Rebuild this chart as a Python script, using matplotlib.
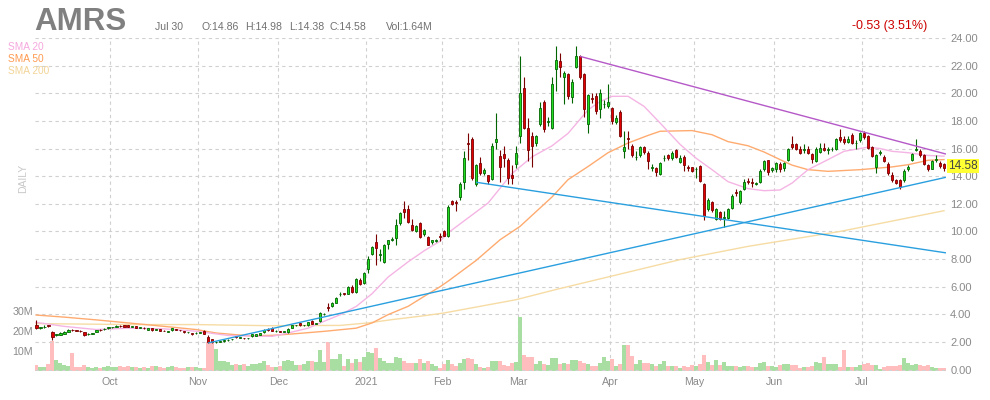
import numpy as np
import pandas as pd
import matplotlib
matplotlib.use("Agg")
import matplotlib.pyplot as plt
import matplotlib.transforms as mtransforms

plt.rcParams['font.family'] = ['Liberation Sans', 'DejaVu Sans']

# trading days Sep 3 2020 .. Jul 30 2021
holidays = ['2020-09-07', '2020-11-26', '2020-12-25', '2021-01-01', '2021-01-18',
            '2021-02-15', '2021-04-02', '2021-05-31', '2021-07-05']

opens = [
    3.25, 3.0, 3.05, 3.2, 2.75, 2.5, 2.53, 2.58, 2.72, 2.9,
    2.83, 2.8, 2.72, 2.55, 2.6, 2.72, 2.86, 2.92, 3.0, 3.07,
    3.08, 3.15, 3.22, 3.2, 3.12, 3.13, 3.02, 3.02, 2.9, 3.0,
    2.88, 2.92, 2.82, 2.74, 2.85, 2.92, 2.86, 2.8, 2.7, 2.65,
    2.63, 2.68, 2.8, 2.36, 2.2, 1.98, 2.0, 2.05, 2.14, 2.18,
    2.42, 2.3, 2.28, 2.27, 2.4, 2.45, 2.5, 2.7, 2.92, 3.0,
    2.8, 2.76, 2.74, 2.7, 3.0, 3.2, 3.35, 3.2, 3.2, 3.55,
    3.33, 3.5, 4.02, 4.5, 4.6, 4.85, 5.45, 5.5, 5.5, 6.0,
    5.6, 6.5, 6.25, 7.25, 8.4, 9.2, 8.3, 7.8, 9.1, 9.35,
    9.5, 10.6, 11.6, 11.6, 10.5, 10.0, 10.6, 9.8, 9.6, 9.2,
    9.33, 9.7, 10.0, 9.65, 12.2, 12.1, 12.5, 13.6, 16.4, 16.7,
    13.4, 14.95, 14.2, 14.05, 13.8, 16.5, 15.45, 15.6, 15.2, 14.1,
    14.9, 16.9, 20.4, 17.5, 16.9, 16.4, 17.75, 19.35, 17.95, 17.5,
    21.75, 22.3, 21.2, 21.4, 19.75, 21.9, 22.7, 21.4, 17.75, 19.65,
    19.8, 18.85, 19.2, 19.1, 18.9, 17.95, 18.65, 15.85, 16.75, 16.2,
    15.38, 15.5, 16.1, 15.7, 14.6, 14.6, 14.15, 15.3, 15.5, 15.3,
    15.9, 15.05, 15.4, 14.62, 14.65, 14.52, 14.75, 13.4, 11.6, 12.1,
    10.9, 11.4, 10.98, 11.0, 11.7, 12.82, 12.1, 13.1, 13.62, 13.58,
    13.45, 13.6, 14.55, 15.15, 14.45, 14.55, 14.9, 14.6, 15.15, 16.3,
    16.35, 16.0, 15.92, 16.0, 15.6, 15.1, 15.75, 16.05, 15.93, 15.96,
    16.0, 16.85, 16.7, 16.45, 17.0, 16.38, 16.65, 17.15, 16.9, 16.1,
    14.7, 15.68, 15.4, 14.9, 14.05, 13.7, 13.7, 13.7, 14.5, 15.2,
    15.93, 15.85, 15.5, 14.8, 14.55, 15.18, 14.95, 14.86,
]
highs = [
    3.6, 3.1, 3.2, 3.25, 2.8, 2.6, 2.7, 2.8, 2.95, 2.95,
    2.9, 2.85, 2.75, 2.65, 2.65, 2.88, 2.92, 2.98, 3.12, 3.12,
    3.22, 3.2, 3.25, 3.24, 3.18, 3.16, 3.08, 3.05, 3.02, 3.04,
    2.94, 2.95, 2.86, 2.8, 3.02, 2.96, 2.9, 2.83, 2.74, 2.68,
    2.7, 2.74, 2.85, 2.5, 2.25, 2.06, 2.1, 2.18, 2.2, 2.24,
    2.46, 2.34, 2.32, 2.32, 2.58, 2.58, 2.68, 2.92, 2.98, 3.05,
    2.85, 2.8, 2.8, 2.98, 3.22, 3.25, 3.4, 3.25, 3.48, 3.6,
    3.4, 4.15, 4.1, 4.85, 4.9, 5.25, 5.6, 5.58, 6.05, 6.1,
    6.6, 6.6, 7.1, 8.2, 8.95, 9.8, 8.7, 9.1, 9.4, 9.6,
    10.9, 11.4, 12.2, 11.9, 10.9, 10.5, 10.7, 10.2, 9.7, 9.4,
    9.45, 9.9, 10.1, 11.9, 12.3, 12.3, 13.6, 15.8, 17.1, 16.8,
    14.9, 15.4, 14.6, 14.1, 16.4, 18.6, 15.9, 16.2, 15.3, 14.8,
    16.2, 22.7, 21.2, 18.2, 17.2, 17.0, 19.4, 19.5, 18.3, 21.2,
    23.45, 22.9, 21.6, 21.5, 21.0, 23.4, 22.8, 21.5, 19.95, 20.0,
    20.0, 20.3, 19.5, 20.7, 19.0, 18.4, 18.8, 17.3, 17.3, 16.3,
    15.8, 16.2, 16.2, 15.8, 14.9, 14.7, 15.0, 15.5, 15.6, 15.8,
    16.0, 15.5, 15.5, 14.8, 14.7, 14.7, 14.8, 13.5, 12.4, 12.2,
    11.7, 11.5, 11.5, 11.7, 12.7, 13.1, 13.0, 13.8, 13.9, 13.9,
    13.55, 14.5, 15.2, 15.2, 14.7, 15.0, 15.0, 15.0, 16.05, 16.9,
    16.4, 16.2, 16.3, 16.2, 15.7, 16.1, 16.4, 16.4, 16.1, 16.1,
    16.75, 17.4, 16.9, 16.9, 17.1, 16.65, 17.2, 17.25, 17.0, 16.2,
    15.6, 15.9, 15.5, 15.0, 14.3, 13.8, 13.8, 14.5, 14.8, 15.7,
    16.7, 16.0, 15.6, 14.9, 15.2, 15.5, 15.1, 14.98,
]
lows = [
    2.95, 2.95, 3.0, 3.1, 2.15, 2.45, 2.5, 2.55, 2.7, 2.8,
    2.78, 2.72, 2.45, 2.5, 2.55, 2.7, 2.8, 2.88, 2.97, 3.02,
    3.05, 3.08, 3.05, 3.1, 3.08, 2.98, 2.98, 2.96, 2.88, 2.83,
    2.84, 2.8, 2.76, 2.7, 2.83, 2.86, 2.8, 2.68, 2.66, 2.5,
    2.6, 2.64, 2.58, 1.92, 1.9, 1.95, 1.98, 2.02, 2.1, 2.14,
    2.32, 2.26, 2.2, 2.22, 2.38, 2.42, 2.48, 2.68, 2.82, 2.78,
    2.75, 2.7, 2.7, 2.68, 2.98, 3.15, 3.18, 3.15, 3.18, 3.28,
    3.3, 3.45, 3.98, 4.25, 4.55, 4.8, 5.3, 5.4, 5.45, 5.55,
    5.55, 6.1, 6.2, 7.0, 8.3, 7.6, 7.85, 7.75, 8.7, 9.3,
    9.0, 10.5, 11.0, 10.6, 10.05, 9.95, 9.5, 9.7, 9.0, 9.1,
    9.25, 9.3, 9.65, 9.6, 11.9, 11.5, 12.3, 13.1, 15.2, 13.7,
    13.3, 14.1, 14.1, 13.4, 13.7, 16.0, 13.6, 14.7, 13.4, 13.4,
    14.6, 16.4, 17.4, 15.1, 14.7, 16.2, 17.6, 17.2, 17.6, 17.4,
    20.2, 21.2, 19.2, 19.6, 19.3, 21.8, 21.0, 18.3, 17.1, 19.3,
    18.5, 18.2, 18.9, 18.9, 17.8, 17.8, 16.8, 15.3, 16.0, 15.4,
    15.2, 15.4, 15.6, 14.5, 14.4, 14.0, 14.05, 15.1, 15.2, 15.2,
    15.3, 14.95, 14.4, 14.4, 14.3, 13.9, 13.6, 10.85, 11.5, 11.4,
    10.8, 10.8, 10.35, 10.9, 11.6, 12.6, 12.0, 13.0, 13.4, 13.2,
    13.35, 13.5, 14.4, 14.1, 14.3, 14.3, 14.3, 14.4, 15.1, 16.0,
    15.9, 15.6, 15.7, 15.6, 14.95, 15.0, 15.7, 15.8, 15.6, 15.85,
    15.9, 16.5, 16.3, 16.4, 16.3, 15.95, 16.5, 16.7, 16.0, 15.4,
    14.2, 15.5, 15.0, 14.1, 13.6, 13.4, 13.1, 13.6, 14.4, 15.1,
    15.8, 15.4, 14.8, 14.4, 14.5, 15.0, 14.6, 14.38,
]
closes = [
    3.0, 3.05, 3.1, 3.15, 2.35, 2.55, 2.65, 2.75, 2.9, 2.85,
    2.82, 2.78, 2.5, 2.6, 2.62, 2.85, 2.85, 2.94, 3.08, 3.08,
    3.18, 3.13, 3.08, 3.12, 3.13, 3.0, 3.04, 3.0, 3.0, 2.85,
    2.9, 2.82, 2.8, 2.76, 3.0, 2.9, 2.85, 2.7, 2.7, 2.55,
    2.65, 2.7, 2.6, 1.98, 2.0, 2.02, 2.08, 2.15, 2.15, 2.2,
    2.35, 2.3, 2.27, 2.28, 2.55, 2.55, 2.65, 2.9, 2.9, 2.8,
    2.8, 2.75, 2.75, 2.95, 3.2, 3.2, 3.2, 3.2, 3.45, 3.3,
    3.35, 4.1, 4.05, 4.45, 4.85, 5.2, 5.5, 5.48, 6.0, 5.6,
    6.55, 6.2, 7.0, 8.0, 8.9, 8.8, 8.35, 9.05, 9.35, 9.45,
    10.5, 11.3, 11.4, 10.7, 10.1, 10.4, 9.6, 10.1, 9.05, 9.35,
    9.35, 9.6, 9.7, 11.8, 12.0, 12.08, 13.4, 15.3, 16.35, 13.9,
    14.8, 14.2, 14.45, 13.65, 16.2, 16.7, 14.7, 15.3, 13.9, 13.9,
    15.7, 20.0, 17.5, 15.9, 16.2, 16.9, 18.9, 17.45, 18.0, 20.7,
    22.4, 21.9, 21.45, 19.8, 20.85, 22.7, 21.2, 18.85, 19.9, 19.55,
    18.7, 20.05, 19.2, 19.4, 18.0, 18.2, 16.9, 16.1, 16.7, 15.55,
    15.42, 16.1, 15.75, 15.1, 14.62, 14.3, 14.95, 15.32, 15.3, 15.7,
    15.4, 15.35, 14.8, 14.6, 14.4, 14.55, 13.65, 11.1, 12.25, 11.55,
    11.6, 10.9, 11.02, 11.65, 12.6, 12.78, 12.9, 13.6, 13.58, 13.52,
    13.47, 14.4, 15.1, 14.3, 14.6, 14.95, 14.55, 14.95, 16.0, 16.1,
    16.0, 15.7, 15.96, 15.7, 15.25, 16.0, 16.05, 15.9, 15.96, 15.99,
    16.7, 16.6, 16.5, 16.7, 16.4, 16.42, 17.1, 16.8, 16.05, 15.45,
    15.5, 15.72, 15.1, 14.2, 13.7, 13.5, 13.2, 14.4, 14.7, 15.6,
    15.97, 15.5, 14.9, 14.5, 15.1, 15.22, 14.75, 14.58,
]
# volume in millions
volumes = [
    3.0, 1.8, 1.8, 3.5, 15.0, 5.5, 4.2, 3.0, 2.5, 9.2,
    1.8, 2.2, 3.0, 1.8, 1.7, 1.8, 1.7, 2.2, 2.5, 2.2,
    1.8, 2.5, 2.0, 2.5, 1.8, 2.2, 1.5, 2.0, 1.7, 2.3,
    2.6, 1.8, 1.6, 2.0, 2.4, 1.9, 1.5, 1.7, 2.0, 1.8,
    2.2, 1.7, 1.7, 14.3, 13.8, 11.0, 5.0, 5.2, 4.3, 3.0,
    3.5, 3.0, 3.5, 2.5, 3.5, 3.5, 4.2, 5.0, 3.0, 2.2,
    1.8, 2.7, 5.0, 5.5, 5.0, 3.0, 3.0, 3.3, 5.0, 5.0,
    4.5, 10.5, 4.7, 14.3, 6.0, 6.0, 8.5, 2.5, 6.0, 3.8,
    6.0, 4.7, 7.2, 9.7, 8.8, 11.7, 6.3, 5.0, 3.8, 4.2,
    7.2, 6.7, 5.0, 4.2, 4.2, 4.2, 6.0, 4.2, 5.0, 3.5,
    2.7, 1.7, 3.5, 5.5, 3.5, 2.5, 4.2, 6.0, 6.3, 6.0,
    3.5, 2.2, 1.7, 2.2, 5.0, 5.0, 5.0, 3.0, 2.5, 3.8,
    4.7, 27.2, 8.0, 7.2, 7.2, 3.5, 5.0, 3.5, 3.0, 6.3,
    6.3, 3.5, 4.2, 3.5, 5.5, 5.5, 5.0, 4.2, 3.5, 2.5,
    2.5, 4.2, 7.2, 5.0, 5.8, 2.5, 3.5, 13.0, 13.0, 7.5,
    3.5, 5.5, 3.8, 4.2, 3.5, 2.7, 3.5, 5.0, 2.5, 2.5,
    2.5, 1.7, 2.5, 2.2, 3.0, 2.5, 3.5, 8.0, 4.7, 3.0,
    5.5, 3.0, 4.3, 2.5, 2.5, 2.5, 1.8, 2.5, 2.5, 1.8,
    1.8, 3.8, 4.3, 2.5, 2.5, 1.8, 3.0, 3.5, 3.5, 3.0,
    3.0, 1.7, 1.8, 1.8, 2.5, 4.7, 4.2, 7.2, 3.5, 3.5,
    3.5, 1.8, 10.5, 1.8, 1.8, 1.8, 3.0, 3.5, 4.2, 3.0,
    3.0, 1.0, 1.8, 2.5, 2.5, 2.5, 3.0, 6.3, 4.2, 3.0,
    3.5, 3.0, 2.5, 3.0, 1.8, 1.7, 1.7, 1.64,
]

# moving averages (bar index, value)
sma20_idx = [0, 7, 15, 23, 32, 40, 48, 57, 59, 63, 68, 72, 76, 80, 84, 88, 93, 97, 101,
             103, 113, 119, 124, 129, 133, 138, 141, 144, 148, 152, 156, 161, 165, 169,
             173, 178, 182, 186, 189, 193, 198, 202, 206, 208, 211, 214, 218, 223, 227]
sma20_val = [3.42, 3.13, 2.9, 3.0, 2.95, 2.78, 2.47, 2.42, 2.41, 2.65, 3.0, 3.5, 3.97,
             4.57, 5.5, 6.7, 7.8, 8.6, 9.3, 9.9, 12.06, 14.2, 15.4, 16.2, 17.1, 18.8, 19.4,
             19.78, 19.78, 19.05, 17.85, 16.3, 15.3, 14.47, 13.6, 13.1, 12.95, 13.0, 13.5,
             14.47, 15.2, 15.8, 16.0, 16.1, 16.0, 15.8, 15.7, 15.5, 15.45]
sma50_idx = [0, 7, 15, 23, 32, 40, 45, 53, 59, 64, 72, 80, 84, 88, 93, 97, 101, 103,
             110, 116, 121, 129, 133, 138, 143, 148, 153, 156, 164, 169, 173, 178, 182,
             186, 189, 193, 198, 206, 214, 218, 223, 227]
sma50_val = [3.95, 3.8, 3.6, 3.38, 3.13, 2.9, 2.65, 2.45, 2.48, 2.58, 2.77, 3.0, 3.38,
             3.98, 4.58, 5.3, 6.0, 6.4, 7.9, 9.4, 10.37, 12.5, 13.75, 14.7, 15.7, 16.4,
             16.95, 17.25, 17.3, 17.0, 16.5, 16.2, 15.75, 15.2, 14.8, 14.47, 14.35, 14.47,
             14.67, 14.83, 15.15, 15.2]
sma200_idx = [0, 24, 40, 58, 76, 83, 89, 97, 102, 120, 130, 161, 178, 201, 227]
sma200_val = [3.33, 3.26, 3.26, 3.18, 3.2, 3.38, 3.62, 3.9, 4.1, 5.06, 5.8, 7.96, 8.92,
              10.0, 11.5]

# trend lines (bar index, price)
trend_x0 = [43, 110, 136]
trend_y0 = [1.93, 13.56, 22.67]
trend_x1 = [227.5, 227.5, 227.5]
trend_y1 = [13.92, 8.45, 15.6]

price_ticks = list(range(0, 25, 2))
vol_ticks = [10, 20, 30]
vol_labels = ['10M', '20M', '30M']

o = np.array(opens)
h = np.array(highs)
l = np.array(lows)
c = np.array(closes)
v = np.array(volumes)
n = len(c)
x = np.arange(n)

days = pd.bdate_range('2020-09-03', '2021-07-30')
days = days[~days.isin(pd.to_datetime(holidays))][:n]
month_pos = []
month_lab = []
for k in range(1, len(days)):
    if days[k].month != days[k - 1].month:
        month_pos.append(k - 0.5)
        month_lab.append(str(days[k].year) if days[k].month == 1 else days[k].strftime('%b'))

W, H = 990, 400
fig = plt.figure(figsize=(W / 100, H / 100), dpi=100)
ax_v = fig.add_axes([35 / W, 29 / H, 911 / W, 333 / H])
ax = ax_v.twinx()

grid_kw = dict(color='#d0d0d0', linewidth=0.8, linestyle=(0, (3, 3)))

# volume
up = c >= o
ax_v.bar(x, v, width=0.95, color=np.where(up, '#a9dea3', '#ffbdbd'), zorder=2)
ax_v.set_ylim(0, 166.5)
ax_v.set_yticks(vol_ticks)
ax_v.set_yticklabels(vol_labels)
ax_v.set_xlim(-0.3, 227.5)
ax_v.set_xticks(month_pos)
ax_v.set_xticklabels(month_lab)
ax_v.grid(axis='x', zorder=0, **grid_kw)
ax_v.set_axisbelow(True)
ax_v.tick_params(axis='y', length=0, pad=1.5, labelsize=7.7, labelcolor='#8a8a8a')
ax_v.tick_params(axis='x', length=0, pad=4, labelsize=7.7, labelcolor='#8a8a8a')

# price
ax.set_ylim(-0.1, 24.0)
ax.set_yticks(price_ticks)
ax.set_yticklabels(['%.2f' % t for t in price_ticks])
ax.tick_params(axis='y', length=0, pad=3, labelsize=8, labelcolor='#8a8a8a')
for t in price_ticks:
    ax.axhline(t, zorder=0, **grid_kw)

ax.plot(sma200_idx, sma200_val, color='#f6dca4', lw=1.0, zorder=3)
ax.plot(sma50_idx, sma50_val, color='#ffab70', lw=1.0, zorder=3)
ax.plot(sma20_idx, sma20_val, color='#f5b5e4', lw=1.0, zorder=3)

# candles
wick = np.where(up, '#006400', '#7a0000')
ax.vlines(x, l, h, colors=wick, lw=0.8, zorder=4)
ax.bar(x, np.maximum(np.abs(c - o), 0.03), bottom=np.minimum(o, c), width=0.66,
       color=np.where(up, '#22dd22', '#e00000'), edgecolor=wick, linewidth=0.6, zorder=5)

trend_colors = ['#2a9fdf', '#2a9fdf', '#b558c8']
for x0, y0, x1, y1, col in zip(trend_x0, trend_y0, trend_x1, trend_y1, trend_colors):
    ax.plot([x0, x1], [y0, y1], color=col, lw=1.0, zorder=6, solid_capstyle='butt')

for a in (ax, ax_v):
    for s in a.spines.values():
        s.set_visible(False)

# last price tag
tr = mtransforms.blended_transform_factory(ax.transAxes, ax.transData)
ax.text(1.002, closes[-1] + 0.15, '%.2f' % closes[-1], transform=tr, fontsize=8.5,
        color='#444444', ha='left', va='center', zorder=10,
        bbox=dict(boxstyle='square,pad=0.1', fc='#ffff33', ec='none'))

# header
def ftext(px, py, s, **kw):
    fig.text(px / W, 1 - py / H, s, va='baseline', **kw)

ftext(34, 30, 'AMRS', fontsize=22.5, fontweight='bold', color='#808080')
ftext(155, 30, 'Jul 30', fontsize=7.6, color='#707070')
ftext(202, 30, 'O:14.86', fontsize=7.6, color='#707070')
ftext(245, 30, 'H:14.98', fontsize=7.6, color='#707070')
ftext(289, 30, 'L:14.38', fontsize=7.6, color='#707070')
ftext(330, 30, 'C:14.58', fontsize=7.6, color='#707070')
ftext(386, 30, 'Vol:1.64M', fontsize=7.6, color='#707070')
ftext(852, 29, '-0.53 (3.51%)', fontsize=9, color='#cc0000')
ftext(8, 50, 'SMA 20', fontsize=7.3, color='#f5a8dd')
ftext(8, 62, 'SMA 50', fontsize=7.3, color='#ff9a50')
ftext(8, 74, 'SMA 200', fontsize=7.3, color='#f2d496')
fig.text(23 / W, 1 - 178 / H, 'DAILY', rotation=90, fontsize=7.5, color='#c8c8c8',
         ha='center', va='center')

fig.savefig('out.png', dpi=100)
